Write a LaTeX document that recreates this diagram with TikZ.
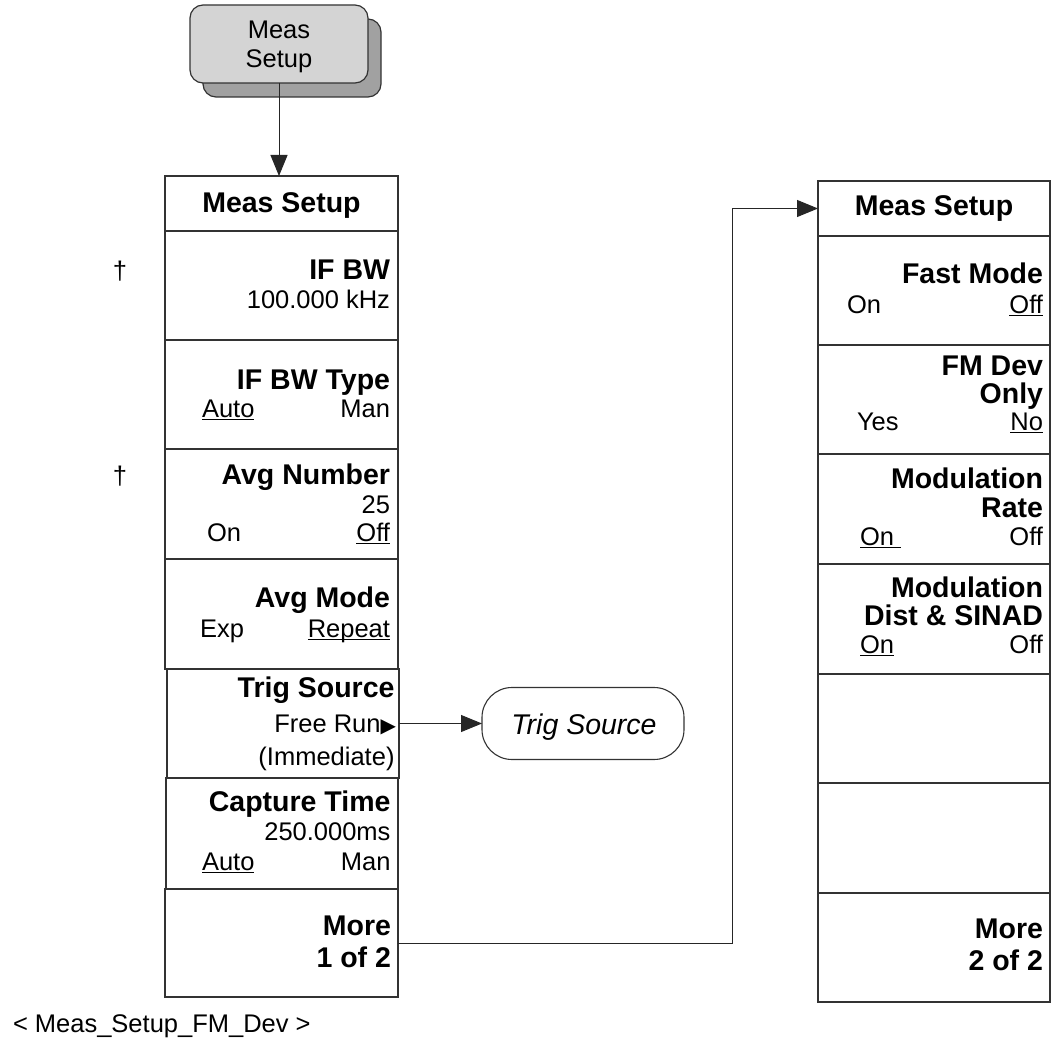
\documentclass[tikz,border=0pt]{standalone}
\usepackage{fontspec}
\setmainfont{Liberation Sans}
\newfontfamily\symfont{DejaVu Sans}
\usetikzlibrary{arrows.meta}
\newsavebox\ulbox
\newcommand\ulin[1]{\sbox\ulbox{#1}\rlap{\rule[-3pt]{\wd\ulbox}{1.4pt}}\usebox\ulbox}
\begin{document}
\begin{tikzpicture}[x=1pt,y=-1pt,
  keybox/.style={draw=black!80, line width=1.3pt, fill=white, inner sep=0pt, outer sep=0pt},
  bt/.style={font=\fontsize{28.5}{30}\selectfont\bfseries, inner sep=0pt, outer sep=0pt},
  rt/.style={font=\fontsize{25.5}{28}\selectfont, inner sep=0pt, outer sep=0pt},
  rE/.style={anchor=base east},
  rW/.style={anchor=base west},
  rC/.style={anchor=base},
  conn/.style={draw=black!85, line width=1pt},
  arr/.style={conn, -{Triangle[length=21pt,width=17pt]}},
  hardkey/.style={draw=black!80, line width=1.2pt, rounded corners=13pt, minimum width=178pt, minimum height=78pt, inner sep=0pt, outer sep=0pt},
]
\useasboundingbox (0,0) rectangle (1057,1043);

% hard key
\node[hardkey, fill=black!37] (keyshadow) at (292,58) {};
\node[hardkey, fill=black!17] (key) at (279,44) {};
\node[rt, rC] (keyt1) at (279,39) {Meas};
\node[rt, rC] (keyt2) at (279,68) {Setup};

% left column
\node[keybox, minimum width=233pt, minimum height=55pt]  (hdrL)  at (281.5,203.5) {};
\node[keybox, minimum width=233pt, minimum height=109pt] (ifbw)  at (281.5,285.5) {};
\node[keybox, minimum width=233pt, minimum height=109pt] (ifbwt) at (281.5,394.5) {};
\node[keybox, minimum width=233pt, minimum height=110pt] (avgn)  at (281.5,504) {};
\node[keybox, minimum width=233pt, minimum height=110pt] (avgm)  at (281.5,614) {};
\node[keybox, minimum width=232pt, minimum height=109pt] (trig)  at (283,723.5) {};
\node[keybox, minimum width=232pt, minimum height=111pt] (capt)  at (282,833.5) {};
\node[keybox, minimum width=233pt, minimum height=108pt] (moreL) at (281.5,943) {};

\node[bt, rC] (l0) at (281.5,213) {Meas Setup};
\node[bt, rE] (l1a) at (390,279) {IF BW};
\node[rt, rE] (l1b) at (390,308) {100.000 kHz};
\node[bt, rE] (l2a) at (390,389) {IF BW Type};
\node[rt, rW] (l2b) at (202,417) {\ulin{Auto}};
\node[rt, rE] (l2c) at (390,417) {Man};
\node[bt, rE] (l3a) at (390,484) {Avg Number};
\node[rt, rE] (l3b) at (390,513) {25};
\node[rt, rW] (l3c) at (207,541) {On};
\node[rt, rE] (l3d) at (390,541) {\ulin{Off}};
\node[bt, rE] (l4a) at (390,607) {Avg Mode};
\node[rt, rW] (l4b) at (200,637) {Exp};
\node[rt, rE] (l4c) at (390,637) {\ulin{Repeat}};
\node[bt, rE] (l5a) at (394.5,697) {Trig Source};
\node[rt, rE] (l5b) at (396,732) {Free Run{\symfont\fontsize{20}{20}\selectfont ▶}};
\node[rt, rE] (l5c) at (394.5,765) {(Immediate)};
\node[bt, rE] (l6a) at (390.5,811) {Capture Time};
\node[rt, rE] (l6b) at (390.5,840) {250.000ms};
\node[rt, rW] (l6c) at (202,870) {\ulin{Auto}};
\node[rt, rE] (l6d) at (390.5,870) {Man};
\node[bt, rE] (l7a) at (391,935) {More};
\node[bt, rE] (l7b) at (391,967) {1 of 2};

% daggers
\node[rt, rC] (dag1) at (120,279) {†};
\node[rt, rC] (dag2) at (120,484) {†};

% right column
\node[keybox, minimum width=232pt, minimum height=55pt]  (hdrR)  at (934,208.5) {};
\node[keybox, minimum width=232pt, minimum height=109pt] (fast)  at (934,290.5) {};
\node[keybox, minimum width=232pt, minimum height=109pt] (fmdev) at (934,399.5) {};
\node[keybox, minimum width=232pt, minimum height=110pt] (modr)  at (934,509) {};
\node[keybox, minimum width=232pt, minimum height=110pt] (modd)  at (934,619) {};
\node[keybox, minimum width=232pt, minimum height=109pt] (emp1)  at (934,728.5) {};
\node[keybox, minimum width=232pt, minimum height=110pt] (emp2)  at (934,838) {};
\node[keybox, minimum width=232pt, minimum height=109pt] (moreR) at (934,947.5) {};

\node[bt, rC] (r0) at (934,215) {Meas Setup};
\node[bt, rE] (r1a) at (1043,283) {Fast Mode};
\node[rt, rW] (r1b) at (847,313) {On};
\node[rt, rE] (r1c) at (1043,313) {\ulin{Off}};
\node[bt, rE] (r2a) at (1043,375) {FM Dev};
\node[bt, rE] (r2b) at (1043,403) {Only};
\node[rt, rW] (r2c) at (857,430) {Yes};
\node[rt, rE] (r2d) at (1043,430) {\ulin{No}};
\node[bt, rE] (r3a) at (1043,488) {Modulation};
\node[bt, rE] (r3b) at (1043,517) {Rate};
\node[rt, rW] (r3c) at (860,545) {\ulin{On\ }};
\node[rt, rE] (r3d) at (1043,545) {Off};
\node[bt, rE] (r4a) at (1043,597) {Modulation};
\node[bt, rE] (r4b) at (1043,625) {Dist \& SINAD};
\node[rt, rW] (r4c) at (860,653) {\ulin{On}};
\node[rt, rE] (r4d) at (1043,653) {Off};
\node[bt, rE] (r7a) at (1043,938) {More};
\node[bt, rE] (r7b) at (1043,970) {2 of 2};

% Trig Source menu
\node[draw=black!80, line width=1.1pt, rounded corners=30pt, minimum width=202pt, minimum height=72pt, inner sep=0pt, outer sep=0pt] (tsrc) at (583,723.5) {};
\node[rC, inner sep=0pt, font=\fontsize{28.5}{30}\selectfont\itshape] (tsrct) at (584,734) {Trig Source};

% connectors
\draw[arr] (key.south) -- (key.south |- hdrL.north);
\draw[arr] (trig.east) -- (tsrc.west);
\coordinate (bend) at (732,208.5);
\draw[arr] (moreL.east) -| (bend) -- (hdrR.west);

% caption
\node[rt, rW] (cap) at (13,1032) {< Meas\_Setup\_FM\_Dev >};
\end{tikzpicture}
\end{document}
